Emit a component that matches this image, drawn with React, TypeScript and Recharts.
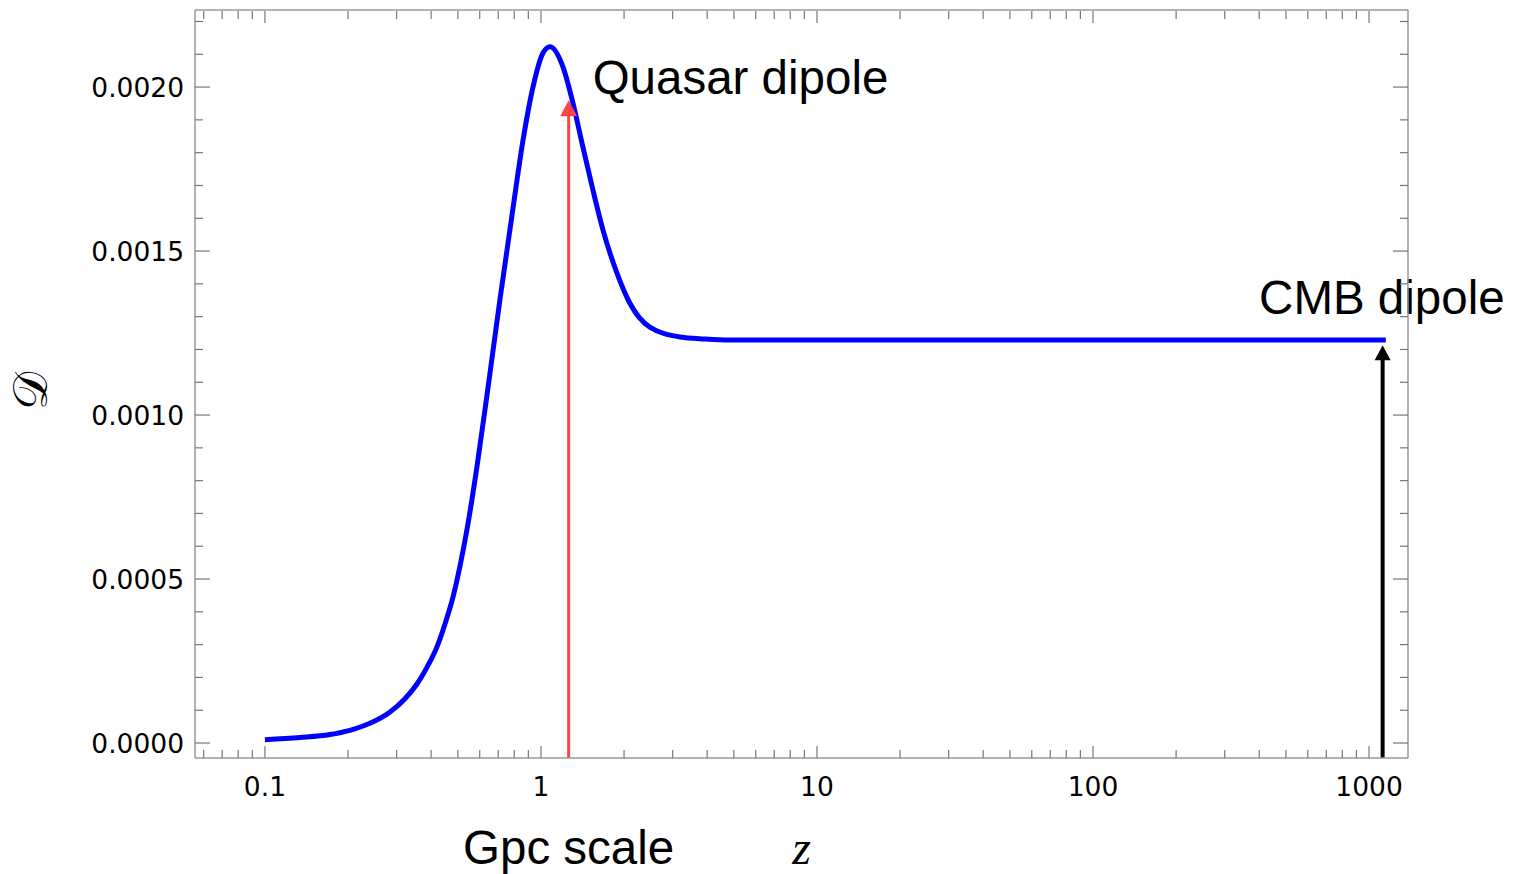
import { LineChart, Line, XAxis, YAxis, ReferenceLine } from "recharts";

// dipole amplitude D versus redshift z
const zValues = [
  0.1, 0.134, 0.172, 0.203, 0.24, 0.284, 0.3215, 0.3555, 0.386, 0.42, 0.449,
  0.48, 0.509, 0.539, 0.586, 0.6375, 0.71, 0.792, 0.861, 0.9355, 1.017, 1.078,
  1.202, 1.306, 1.419, 1.543, 1.678, 1.885, 2.1, 2.48, 3.19, 3.93, 4.84, 10,
  100, 1150,
];
const dipoleValues = [
  0.00001, 0.0000168, 0.0000259, 0.0000387, 0.00006, 0.0000945, 0.000135,
  0.00018, 0.00023, 0.000293, 0.000363, 0.000445, 0.00054, 0.000649, 0.000841,
  0.001061, 0.001351, 0.001631, 0.001838, 0.002, 0.002104, 0.002123, 0.002061,
  0.001951, 0.001817, 0.001686, 0.001564, 0.001433, 0.001341, 0.001268,
  0.001238, 0.001232, 0.001229, 0.001229, 0.001229, 0.001229,
];

const xMajorTicks = [0.1, 1, 10, 100, 1000];
const xMinorTicks = [
  0.06, 0.07, 0.08, 0.09, 0.2, 0.3, 0.4, 0.5, 0.6, 0.7, 0.8, 0.9, 2, 3, 4, 5,
  6, 7, 8, 9, 20, 30, 40, 50, 60, 70, 80, 90, 200, 300, 400, 500, 600, 700,
  800, 900,
];
const yMajorTicks = [0, 0.0005, 0.001, 0.0015, 0.002];
const yMinorTicks = [
  0.0001, 0.0002, 0.0003, 0.0004, 0.0006, 0.0007, 0.0008, 0.0009, 0.0011,
  0.0012, 0.0013, 0.0014, 0.0016, 0.0017, 0.0018, 0.0019, 0.0021, 0.0022,
];

// annotation arrows: z position and value at the arrow tip
const quasarArrow = { z: 1.26, tip: 0.00196 };
const cmbArrow = { z: 1120, tip: 0.001213 };

const X_DOMAIN = [0.0558, 1384];
const Y_DOMAIN = [-0.0000457, 0.002235];

const FRAME = "#999999";
const TICK = "#777777";
const NUM_FONT = "DejaVu Sans";
const NUM_SIZE = 26.5;
const TEXT_FONT = "Liberation Sans, Arial, sans-serif";
const TEXT_SIZE = 47.5;

const data = zValues.map((z, i) => ({ z, d: dipoleValues[i] }));
const xTicks = [...xMajorTicks, ...xMinorTicks].sort((a, b) => a - b);
const yTicks = [...yMajorTicks, ...yMinorTicks].sort((a, b) => a - b);

const isXMajor = (v: number) => xMajorTicks.includes(v);
const isYMajor = (v: number) => yMajorTicks.some((m) => Math.abs(m - v) < 1e-9);

const BottomTick = ({ x, y, payload }: any) => {
  const major = isXMajor(payload.value);
  return (
    <g>
      <line x1={x} y1={y} x2={x} y2={y - (major ? 12 : 8)} stroke={TICK} strokeWidth={1.2} />
      {major && (
        <text x={x} y={y + 38} textAnchor="middle" fontFamily={NUM_FONT} fontSize={NUM_SIZE} fill="#000">
          {String(payload.value)}
        </text>
      )}
    </g>
  );
};

// top axis is 1px tall: its tick anchor sits 1px above the frame line
const TopTick = ({ x, y, payload }: any) => (
  <line x1={x} y1={y + 1} x2={x} y2={y + 1 + (isXMajor(payload.value) ? 12 : 8)} stroke={TICK} strokeWidth={1.2} />
);

const LeftTick = ({ x, y, payload }: any) => {
  const major = isYMajor(payload.value);
  return (
    <g>
      <line x1={x} y1={y} x2={x + (major ? 15 : 8)} y2={y} stroke={TICK} strokeWidth={1.2} />
      {major && (
        <text x={x - 11} y={y + 9.5} textAnchor="end" fontFamily={NUM_FONT} fontSize={NUM_SIZE} fill="#000">
          {payload.value.toFixed(4)}
        </text>
      )}
    </g>
  );
};

const RightTick = ({ x, y, payload }: any) => (
  <line x1={x} y1={y} x2={x - (isYMajor(payload.value) ? 15 : 8)} y2={y} stroke={TICK} strokeWidth={1.2} />
);

const XLabel = ({ viewBox }: any) => (
  <text
    x={viewBox.x + viewBox.width / 2}
    y={viewBox.y + 106}
    textAnchor="middle"
    fontFamily="Liberation Serif, serif"
    fontStyle="italic"
    fontSize={48}
    fill="#000"
  >
    z
  </text>
);

const YLabel = ({ viewBox }: any) => {
  const cx = viewBox.x + 47;
  const cy = viewBox.y + viewBox.height / 2 + 7;
  return (
    <text
      x={cx}
      y={cy}
      transform={`rotate(-90 ${cx} ${cy})`}
      textAnchor="middle"
      fontFamily="DejaVu Serif, DejaVu Sans, serif"
      fontSize={48}
      fill="#000"
    >
      𝒟
    </text>
  );
};

const makeArrow =
  (color: string, lineWidth: number, headW: number, headH: number, label: (x: number, tip: number, base: number) => any) =>
  (p: any) => {
    const x = p.x1;
    const tip = Math.min(p.y1, p.y2);
    const base = Math.max(p.y1, p.y2);
    return (
      <g>
        <line x1={x} y1={base} x2={x} y2={tip + headH - 1} stroke={color} strokeWidth={lineWidth} />
        <polygon
          points={`${x},${tip} ${x - headW / 2},${tip + headH} ${x + headW / 2},${tip + headH}`}
          fill={color}
        />
        {label(x, tip, base)}
      </g>
    );
  };

const QuasarArrow = makeArrow("#ff4444", 3, 17, 16, (x, tip, base) => (
  <g fontFamily={TEXT_FONT} fontSize={TEXT_SIZE} fill="#000">
    <text x={x + 24} y={tip - 6}>Quasar dipole</text>
    <text x={x} y={base + 106} textAnchor="middle">Gpc scale</text>
  </g>
));

const CmbArrow = makeArrow("#000000", 4, 16, 15, (x, tip) => (
  <text x={x + 122} y={tip - 31} textAnchor="end" fontFamily={TEXT_FONT} fontSize={TEXT_SIZE} fill="#000">
    CMB dipole
  </text>
));

export default function App() {
  return (
    <div style={{ position: "absolute", left: 0, top: 0, background: "#fff" }}>
      <LineChart width={1519} height={874} data={data} margin={{ top: 9, right: 110, bottom: 0, left: 0 }}>
        <XAxis
          xAxisId="bottom"
          dataKey="z"
          type="number"
          scale="log"
          domain={X_DOMAIN}
          allowDataOverflow
          ticks={xTicks}
          interval={0}
          height={116}
          tickSize={0}
          tickMargin={0}
          tickLine={false}
          tick={BottomTick}
          axisLine={{ stroke: FRAME, strokeWidth: 1.5 }}
          label={{ content: XLabel }}
        />
        <XAxis
          xAxisId="top"
          orientation="top"
          dataKey="z"
          type="number"
          scale="log"
          domain={X_DOMAIN}
          allowDataOverflow
          ticks={xTicks}
          interval={0}
          height={1}
          tickSize={0}
          tickMargin={0}
          tickLine={false}
          tick={TopTick}
          axisLine={{ stroke: FRAME, strokeWidth: 1.5 }}
        />
        <YAxis
          yAxisId="left"
          type="number"
          domain={Y_DOMAIN}
          allowDataOverflow
          ticks={yTicks}
          interval={0}
          width={195}
          tickSize={0}
          tickMargin={0}
          tickLine={false}
          tick={LeftTick}
          axisLine={{ stroke: FRAME, strokeWidth: 1.5 }}
          label={{ content: YLabel }}
        />
        <YAxis
          yAxisId="right"
          orientation="right"
          type="number"
          domain={Y_DOMAIN}
          allowDataOverflow
          ticks={yTicks}
          interval={0}
          width={1}
          tickSize={0}
          tickMargin={0}
          tickLine={false}
          tick={RightTick}
          axisLine={{ stroke: FRAME, strokeWidth: 1.5 }}
        />
        {/* invisible twin so the mirrored frame axes get drawn */}
        <Line
          xAxisId="top"
          yAxisId="right"
          dataKey="d"
          stroke="none"
          dot={false}
          activeDot={false}
          isAnimationActive={false}
        />
        <Line
          xAxisId="bottom"
          yAxisId="left"
          dataKey="d"
          type="monotone"
          stroke="#0000ff"
          strokeWidth={5}
          dot={false}
          isAnimationActive={false}
        />
        <ReferenceLine
          xAxisId="bottom"
          yAxisId="left"
          segment={[
            { x: quasarArrow.z, y: Y_DOMAIN[0] },
            { x: quasarArrow.z, y: quasarArrow.tip },
          ]}
          ifOverflow="visible"
          shape={QuasarArrow}
        />
        <ReferenceLine
          xAxisId="bottom"
          yAxisId="left"
          segment={[
            { x: cmbArrow.z, y: Y_DOMAIN[0] },
            { x: cmbArrow.z, y: cmbArrow.tip },
          ]}
          ifOverflow="visible"
          shape={CmbArrow}
        />
      </LineChart>
    </div>
  );
}
